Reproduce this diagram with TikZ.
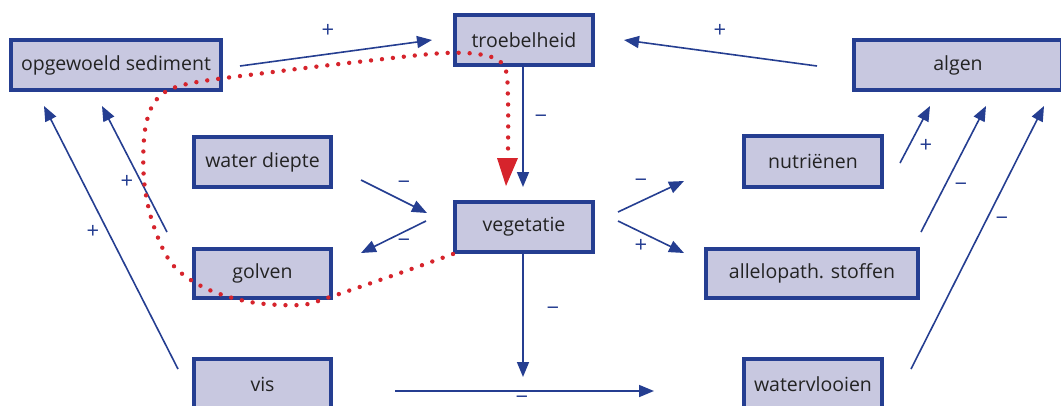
\documentclass[tikz,border=0pt]{standalone}
\usepackage{fontspec}
\setmainfont{Open Sans}
\usetikzlibrary{arrows.meta}
\definecolor{bl}{RGB}{37,62,145}
\definecolor{boxfill}{RGB}{200,200,224}
\definecolor{txt}{RGB}{35,35,35}
\definecolor{rd}{RGB}{214,36,44}
\begin{document}
\begin{tikzpicture}[x=1pt,y=-1pt,
  box/.style={draw=bl, fill=boxfill, line width=4pt, text=txt,
    font=\fontsize{19.5}{23}\selectfont, inner sep=0pt},
  arr/.style={draw=bl, line width=1.6pt, -{Triangle[length=15pt,width=12pt]}},
  lbl/.style={text=bl, font=\fontsize{22}{24}\selectfont, inner sep=0pt},
  reddots/.style={draw=rd, line width=4.4pt, line cap=round, dash pattern=on 0pt off 11pt}]
\useasboundingbox (0,0) rectangle (1061,405);

% boxes
\node[box, minimum width=210pt, minimum height=50pt] (sed) at (116,65) {opgewoeld sediment};
\node[box, minimum width=138pt, minimum height=50pt] (troeb) at (524,40) {troebelheid};
\node[box, minimum width=208pt, minimum height=50pt] (algen) at (958,65) {algen};
\node[box, minimum width=137pt, minimum height=50pt] (water) at (262.5,162) {water diepte};
\node[box, minimum width=137pt, minimum height=49pt] (golven) at (262.5,273.5) {golven};
\node[box, minimum width=138pt, minimum height=50pt] (veg) at (524,227) {vegetatie};
\node[box, minimum width=138pt, minimum height=51pt] (nutr) at (813,161.5) {nutriënen};
\node[box, minimum width=212pt, minimum height=49pt] (allelo) at (812,273.5) {allelopath. stoffen};
\node[box, minimum width=137pt, minimum height=50pt] (vis) at (262.5,384) {vis};
\node[box, minimum width=138pt, minimum height=50pt] (waterv) at (813,384) {watervlooien};

% connector end points
\coordinate (s1) at (240,66);  \coordinate (e1) at (432,40);
\coordinate (s2) at (817,66);  \coordinate (e2) at (624,40);
\coordinate (s3) at (523,67);  \coordinate (e3) at (523,187);
\coordinate (s4) at (361,180); \coordinate (e4) at (427,213);
\coordinate (s5) at (426,221); \coordinate (e5) at (361,253);
\coordinate (s6) at (618,212); \coordinate (e6) at (684,181);
\coordinate (s7) at (618,221); \coordinate (e7) at (684,253);
\coordinate (s8) at (523,254); \coordinate (e8) at (523,377);
\coordinate (s9) at (395,391); \coordinate (e9) at (654,391);
\coordinate (s10) at (167,232); \coordinate (e10) at (102,106);
\coordinate (s11) at (178,369); \coordinate (e11) at (44,106);
\coordinate (s12) at (900,163); \coordinate (e12) at (930,106);
\coordinate (s13) at (921,232); \coordinate (e13) at (986,106);
\coordinate (s14) at (911,369); \coordinate (e14) at (1044,106);

\draw[arr] (s1) -- (e1);
\draw[arr] (s2) -- (e2);
\draw[arr] (s3) -- (e3);
\draw[arr] (s4) -- (e4);
\draw[arr] (s5) -- (e5);
\draw[arr] (s6) -- (e6);
\draw[arr] (s7) -- (e7);
\draw[arr] (s8) -- (e8);
\draw[arr] (s9) -- (e9);
\draw[arr] (s10) -- (e10);
\draw[arr] (s11) -- (e11);
\draw[arr] (s12) -- (e12);
\draw[arr] (s13) -- (e13);
\draw[arr] (s14) -- (e14);

% labels
\node[lbl] (l1) at (328,31) {+};
\node[lbl] (l2) at (720,31) {+};
\node[lbl] (l3) at (541,119) {−};
\node[lbl] (l4) at (404,185) {−};
\node[lbl] (l5) at (404,243) {−};
\node[lbl] (l6) at (641,183) {−};
\node[lbl] (l7) at (641,246) {+};
\node[lbl] (l8) at (553,311) {−};
\node[lbl, anchor=base, text depth=0pt] (l9) at (522,404) {−};
\node[lbl] (l10) at (127,182) {+};
\node[lbl] (l11) at (93,232) {+};
\node[lbl] (l12) at (926,146) {+};
\node[lbl] (l13) at (961,187) {−};
\node[lbl] (l14) at (1002,221) {−};

% red dotted loop
\coordinate (rt) at (506,186);
\draw[reddots] plot[smooth, tension=0.55] coordinates {
  (veg.south west) (400,273) (330,297) (300,305) (250,302) (205,288)
  (172,264) (153,224) (144,180) (145,130) (157,99) (187,84) (273,72)
  (357,62) (445,53) (488,56) (505,68) (508,100) (508,152)};
\fill[rd] (rt) -- (497,158) -- (518,158) -- cycle;
\end{tikzpicture}
\end{document}
